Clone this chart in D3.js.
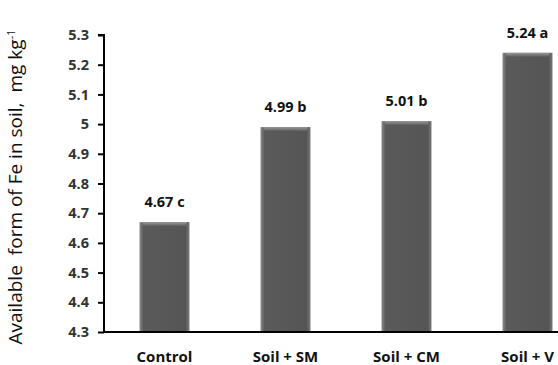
<!DOCTYPE html>
<html><head><meta charset="utf-8">
<script src="https://cdn.jsdelivr.net/npm/d3@7"></script>
<style>body{margin:0;background:#fff}</style>
</head><body>
<svg id="c" width="558" height="365"></svg>
<script>
const categories = ["Control", "Soil + SM", "Soil + CM", "Soil + V"];
const values = [4.67, 4.99, 5.01, 5.24];
const letters = ["c", "b", "b", "a"];
const yTicks = [4.3, 4.4, 4.5, 4.6, 4.7, 4.8, 4.9, 5, 5.1, 5.2, 5.3];

const svg = d3.select("#c");
const m = {left: 104, top: 35, bottom: 332};
const x = d3.scaleBand().domain(categories).range([m.left, m.left + 484]).paddingInner(0.587).paddingOuter(0.2935);
const y = d3.scaleLinear().domain([4.3, 5.3]).range([m.bottom, m.top]);

const defs = svg.append("defs");
const g = defs.append("linearGradient").attr("id", "bg").attr("x1", 0).attr("x2", 1).attr("y1", 0).attr("y2", 0);
g.append("stop").attr("offset", "0%").attr("stop-color", "#8a8a8a");
g.append("stop").attr("offset", "8%").attr("stop-color", "#5a5a5a");
g.append("stop").attr("offset", "92%").attr("stop-color", "#555");
g.append("stop").attr("offset", "100%").attr("stop-color", "#7a7a7a");
const gt = defs.append("linearGradient").attr("id", "tg").attr("x1", 0).attr("x2", 0).attr("y1", 0).attr("y2", 1);
gt.append("stop").attr("offset", "0%").attr("stop-color", "#9a9a9a");
gt.append("stop").attr("offset", "100%").attr("stop-color", "#5d5d5d");

const data = categories.map((c, i) => ({c, v: values[i], l: letters[i]}));
const bars = svg.append("g");
bars.selectAll("rect.bar").data(data).join("rect").attr("class", "bar")
  .attr("x", d => x(d.c)).attr("width", x.bandwidth())
  .attr("y", d => y(d.v)).attr("height", d => y(4.3) - y(d.v))
  .attr("fill", "url(#bg)");
bars.selectAll("rect.top").data(data).join("rect").attr("class", "top")
  .attr("x", d => x(d.c) + 3).attr("width", x.bandwidth() - 6)
  .attr("y", d => y(d.v)).attr("height", 4)
  .attr("fill", "url(#tg)");

const font = "Open Sans, sans-serif";
svg.selectAll("text.val").data(data).join("text").attr("class", "val")
  .attr("x", d => x(d.c) + x.bandwidth() / 2).attr("y", d => y(d.v) - 15)
  .attr("text-anchor", "middle").attr("font-family", font)
  .attr("font-weight", "bold").attr("font-size", 14.5).attr("fill", "#111")
  .text(d => d.v.toFixed(2) + " " + d.l);

const ya = svg.append("g").attr("transform", `translate(${m.left},0)`)
  .call(d3.axisLeft(y).tickValues(yTicks).tickSize(6).tickPadding(9).tickFormat(d => String(d)));
ya.select(".domain").attr("stroke", "#000").attr("stroke-width", 2).attr("d", `M-6,${m.top}H0V${m.bottom}`);
ya.selectAll(".tick line").attr("stroke-width", 2);
ya.selectAll("text").attr("font-family", font).attr("font-weight", "bold").attr("font-size", 14.5).attr("fill", "#333");

const xa = svg.append("g").attr("transform", `translate(0,${m.bottom})`)
  .call(d3.axisBottom(x).tickSize(0).tickPadding(19));
xa.select(".domain").attr("stroke", "#000").attr("stroke-width", 2).attr("d", `M${m.left},0H558`);
xa.selectAll("text").attr("font-family", font).attr("font-weight", "bold").attr("font-size", 15).attr("fill", "#111");

const t = svg.append("text").attr("transform", "translate(22,187) rotate(-90)")
  .attr("text-anchor", "middle").attr("font-family", font).attr("font-size", 19).attr("fill", "#111");
t.append("tspan").text("Available");
t.append("tspan").attr("dx", 10).text("form of Fe in soil,");
t.append("tspan").attr("dx", 10).text("mg kg");
t.append("tspan").attr("dy", -7).attr("font-size", 11).text("-1");
</script>
</body></html>
